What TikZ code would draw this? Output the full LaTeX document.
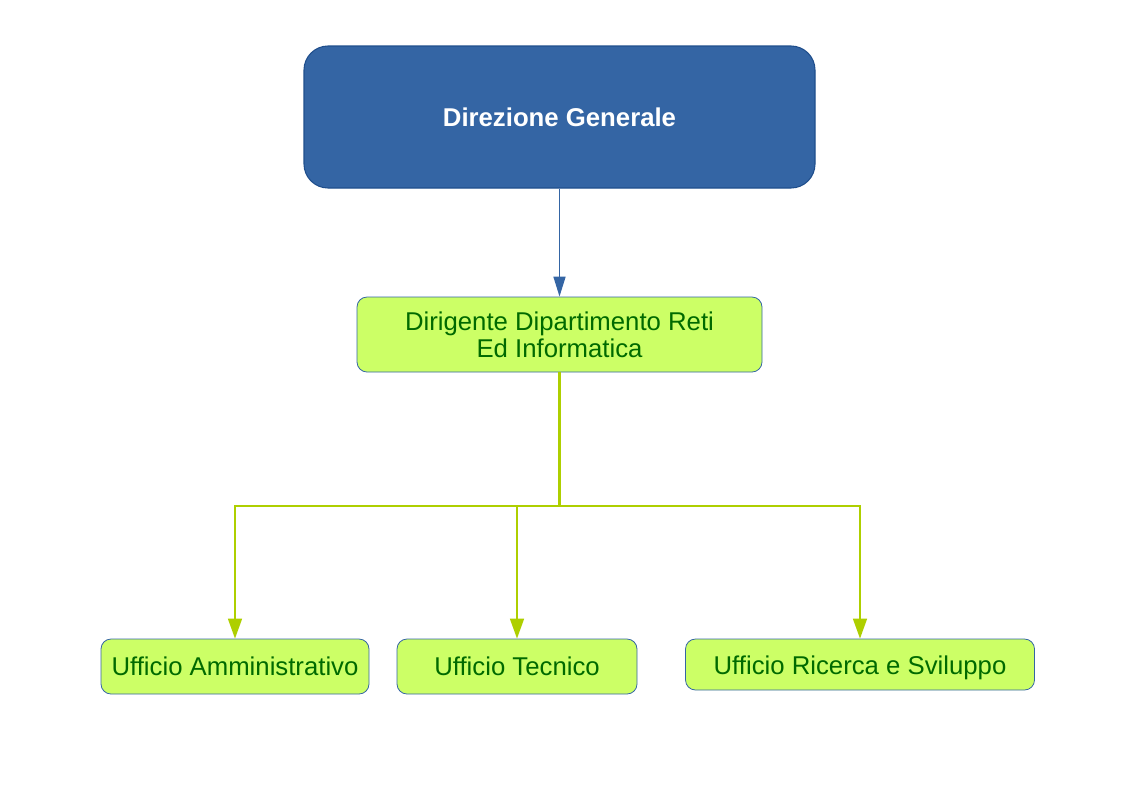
\documentclass[tikz,border=0pt]{standalone}
\usepackage{fontspec}
\setmainfont{Liberation Sans}
\usetikzlibrary{arrows.meta}
\definecolor{topblue}{HTML}{3465A4}
\definecolor{topborder}{HTML}{1F4E8C}
\definecolor{boxfill}{HTML}{CCFF66}
\definecolor{boxtext}{HTML}{006A00}
\definecolor{linkgreen}{HTML}{AECF00}
\tikzset{
  x=0.75pt, y=-0.75pt,
  topbox/.style={draw=topborder, line width=0.8pt, fill=topblue, rounded corners=18pt,
    text=white, font=\fontsize{19.3}{22}\selectfont\bfseries, inner sep=0pt},
  greenbox/.style={draw=topblue, line width=0.6pt, fill=boxfill, rounded corners=7.5pt,
    text=boxtext, font=\fontsize{19.3}{20.5}\selectfont, align=center, inner sep=0pt},
  bluelink/.style={draw=topblue, line width=1.2pt, -{Triangle[length=15pt,width=9pt]}},
  greenstem/.style={draw=linkgreen, line width=1.8pt},
  greenlink/.style={draw=linkgreen, line width=1.2pt, -{Triangle[length=15pt,width=10.5pt]}},
}
\begin{document}
\begin{tikzpicture}
\useasboundingbox (0,0) rectangle (1123,794);
\node[topbox, minimum width=383.25pt, minimum height=106.5pt] (dg) at (559.5,117) {Direzione Generale};
\node[greenbox, minimum width=303.75pt, minimum height=56.25pt] (dir) at (559.5,334.5) {Dirigente Dipartimento Reti\\Ed Informatica};
\node[greenbox, minimum width=201pt, minimum height=41.25pt] (ua) at (235,666.5) {Ufficio Amministrativo};
\node[greenbox, minimum width=180pt, minimum height=41.25pt] (ut) at (517,666.5) {Ufficio Tecnico};
\node[greenbox, minimum width=261.75pt, minimum height=38.25pt] (ur) at (860,664.5) {\rule{0pt}{19pt}Ufficio Ricerca e Sviluppo};
\coordinate (j) at (559.5,506);
\draw[bluelink] (dg.south) -- (dir.north);
\draw[greenstem] (dir.south) -- (j);
\draw[greenlink] (j) -| (ua.north);
\draw[greenlink] (j) -| (ut.north);
\draw[greenlink] (j) -| (ur.north);
\end{tikzpicture}
\end{document}
